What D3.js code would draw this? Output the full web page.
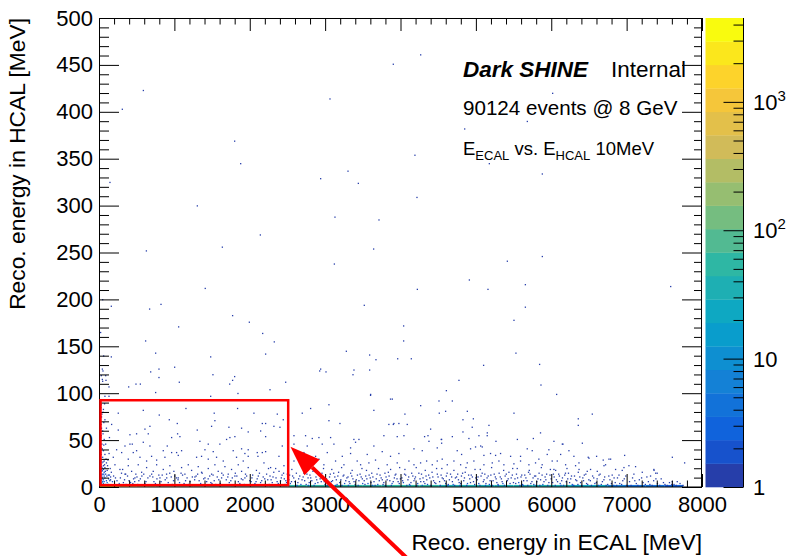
<!DOCTYPE html>
<html>
<head>
<meta charset="utf-8">
<script src="https://cdn.jsdelivr.net/npm/d3@7"></script>
<style>
  body { margin: 0; background: #fff; }
  svg { display: block; font-family: "Liberation Sans", Arial, Helvetica, sans-serif; }
</style>
</head>
<body>
<div id="chart"></div>
<script>
const W = 787, H = 556;

const ecalDomain = [0, 8000];
const hcalDomain = [0, 500];
const zMax = 4500;
const nLevels = 20;

const xTicks = [0, 1000, 2000, 3000, 4000, 5000, 6000, 7000, 8000];
const yTicks = [0, 50, 100, 150, 200, 250, 300, 350, 400, 450, 500];
const zTicks = [1, 10, 100, 1000];
const zTickLabels = [["1", ""], ["10", ""], ["10", "2"], ["10", "3"]];

// ROOT kBird palette stops
const birdPos = [0, 0.125, 0.25, 0.375, 0.5, 0.625, 0.75, 0.875, 1];
const birdR = [0.2082, 0.0592, 0.0780, 0.0232, 0.1802, 0.5301, 0.8186, 0.9956, 0.9764];
const birdG = [0.1664, 0.3599, 0.5041, 0.6419, 0.7178, 0.7492, 0.7328, 0.7862, 0.9832];
const birdB = [0.5293, 0.8684, 0.8385, 0.7914, 0.6425, 0.4662, 0.3499, 0.1968, 0.0539];

// events with high HCAL energy [ECAL MeV, HCAL MeV]
const highHcal = [
  [301,402],[580,422],[3056,413],[3896,450],[1791,368],[1871,344],[2932,328],[3295,336],[3432,323],[137,324],
  [1296,299],[3122,287],[3706,284],[2132,268],[1628,255],[620,251],[3635,253],[3114,237],
  [4259,460],[6010,419],[4843,381],[5674,389],[4183,353],[5170,344],[5873,333],[4210,308],[5409,240],[5873,245],
  [4905,220],[5648,215],[4215,210],[5152,210],[7576,213],[5648,191],[5497,177],[4033,171],[4033,155],[3954,136],
  [4135,136],[5523,142],[5094,129],[5837,130],[4767,113],[5855,108],[4600,102],[6063,98],[3883,93],[3594,97],[3859,93],
  [1401,211],[40,199],[155,192],[814,194],[663,189],[3511,193],[1764,182],[1986,175],[1048,170],[13,164],[2163,163],
  [2317,154],[610,155],[743,142],[155,138],[53,139],[1473,138],[2202,141],[3273,144],[3582,140],[3666,135],[44,123],
  [677,122],[787,125],[995,127],[1503,119],[1791,117],[1764,113],[1725,109],[2468,111],[2919,123],[2932,125],[3003,122],
  [3374,124],[3361,119],[3582,124],[22,118],[84,113],[40,112],[124,106],[385,106],[482,109],[540,109],[1057,111],
  [743,100],[1835,99],[2260,103],[3595,98],[70,96],[124,96],[1473,96],[36,125],[80,118],[36,114],[787,116]
];

// low ECAL column [ECAL, HCAL, entries]
const lowEcalColumn = [
  [20,87,1],[50,82,1],[30,77,1],[70,71,1],[20,66,1],[90,62,1],[40,59,1],[20,54,1],[60,50,1],[30,45,1],[80,45,1],
  [20,41,1],[50,38,2],[20,34,1],[70,34,1],[40,31,2],[20,27,2],[60,27,1],[30,25,2],[90,25,1],[20,23,2],[50,22,1],
  [30,20,3],[70,20,1],[20,18,2],[50,18,2],[100,17,1],[30,16,3],[60,15,2],[20,13,3],[40,13,2],[80,13,1],[30,11,3],
  [60,11,2],[20,9,4],[40,9,3],[70,9,2],[30,7,4],[50,7,3],[20,6,5],[40,5,4],[60,5,3],[90,6,2],[30,4,6],[50,3,5],
  [20,3,6],[10,8,3],[10,15,2],[10,30,1],[10,48,1],[10,70,1],[120,8,2],[110,28,1],[140,19,1],[130,52,1],[100,4,4],
  [15,12,3],[35,17,2],[55,13,2],[75,16,1],[95,11,2],[25,21,2],[45,26,1],[65,23,1],[85,29,1],[15,36,1],[35,40,1],
  [55,44,1],[15,52,1],[45,56,1],[25,62,1],[55,68,1],[25,74,1],[45,79,1],[15,84,1],[65,88,1],[115,12,1],[135,6,1],
  [105,22,1],[125,35,1],[145,10,1],[10,2,8],[30,1,8],[60,1,6],[80,2,4],[110,1,3]
];

// mid HCAL scatter [ECAL, HCAL]
const midHcal = [
  [247,78],[579,81],[791,76],[1145,83],[1520,78],[1830,83],[924,71],[1529,70],[667,64],[1030,67],[159,66],[247,60],
  [601,61],[1295,60],[1485,64],[1715,63],[1883,62],[402,55],[490,56],[645,56],[1034,56],[955,52],[1065,53],[1728,52],
  [1794,53],[1971,58],[336,43],[402,45],[433,45],[579,47],[667,43],[897,43],[1330,48],[1441,45],[1595,45],[1684,50],
  [225,39],[292,36],[446,36],[490,38],[844,38],[955,36],[1021,36],[1087,38],[1397,39],[1507,37],[1772,38],[1883,40],
  [1927,35],[1971,39],[181,31],[380,29],[535,31],[623,27],[689,32],[756,28],[866,31],[1043,33],[1286,31],[1352,32],
  [1441,29],[1551,31],[1640,27],[1816,31],[1905,27],[1971,32],
  [2047,78],[2357,77],[2436,71],[2158,67],[2202,67],[2312,64],[2392,63],[2136,59],[2202,53],[2423,43],[2091,36],
  [2158,36],[2202,37],[2379,32],[2100,32],[2688,78],[2799,83],[3042,87],[3638,81],[3042,70],[3188,67],[3837,66],
  [3904,67],[3970,67],[2578,54],[2732,54],[2821,51],[2909,52],[3064,52],[3373,50],[3440,50],[3771,54],[3948,53],
  [2578,45],[2754,43],[2953,45],[3108,45],[3329,41],[3395,47],[3638,43],[2710,36],[2865,32],[3020,36],[3219,32],
  [3329,35],[3550,34],[3749,37],[3859,32],[3970,35],
  [4502,91],[4679,91],[4259,86],[4050,77],[4506,78],[4590,80],[4878,80],[5497,78],[6350,72],[6536,77],[6350,65],
  [3896,66],[4081,66],[4820,71],[4958,72],[5165,65],[4943,63],[5143,57],[4820,58],[4037,54],[4391,61],[4356,54],
  [4679,53],[4537,50],[4537,46],[4369,48],[5754,51],[5542,50],[6027,48],[6138,45],[6404,46],[5258,48],[5055,43],
  [4170,40],[5142,54],[4311,53],[4532,50],[4899,51],[5032,54],[5849,57],[4280,38],[4479,41],[4744,38],[4802,34],
  [4921,40],[4987,42],[5076,42],[5098,33],[5186,35],[5253,33],[5319,35],[5452,32],[5584,32],[5673,40],[5739,38],
  [5960,39],[5938,34],[6147,45],[6226,38],[6116,34],[6292,32],[6482,31],[6593,32],[6965,33],[7598,31]
];

// dense low HCAL band [ECAL, HCAL, entries]
const lowHcal = [
  [203,23,1],[269,18,1],[336,13,1],[380,22,1],[424,16,1],[468,9,1],[512,23,1],[557,15,1],[623,20,1],[667,11,1],
  [711,16,1],[756,23,1],[800,9,1],[844,18,1],[888,13,1],[932,22,1],[985,16,1],[1043,9,1],[1087,20,1],[1131,13,1],
  [1176,23,1],[1220,17,1],[1264,10,1],[1308,21,1],[1352,15,1],[1397,9,1],[1441,19,1],[1485,13,1],[1529,23,1],
  [1573,16,1],[1618,9,1],[1662,21,1],[1706,13,1],[1750,18,1],[1794,11,1],[1839,23,1],[1883,16,1],[1927,9,1],[1971,20,1],
  [130,12,2],[170,5,2],[210,9,1],[260,3,2],[290,14,1],[330,7,1],[370,11,1],[410,4,2],[450,8,1],[480,13,1],[230,6,1],[350,2,2],[440,3,1],
  [520,6,1],[560,11,1],[600,3,2],[640,9,1],[690,13,1],[720,5,1],[760,8,1],[800,2,2],[830,12,1],[870,7,1],[910,4,1],[950,10,1],[980,6,1],
  [1020,9,1],[1060,4,2],[1100,12,1],[1140,6,1],[1180,2,1],[1230,10,1],[1260,7,1],[1300,13,1],[1340,3,2],[1380,8,1],[1420,5,1],[1460,11,1],[1490,3,1],
  [1520,6,1],[1560,10,1],[1600,3,2],[1640,12,1],[1680,7,1],[1720,4,1],[1760,9,1],[1800,14,1],[1840,5,1],[1880,8,1],[1920,2,2],[1950,11,1],[1990,6,1],
  [2180,25,1],[2268,20,1],[2335,19,1],[2445,22,1],[2578,27,1],[2644,29,1],[2754,25,1],[2909,29,1],[2975,23,1],[3130,27,1],
  [3241,23,1],[3417,27,1],[3462,23,1],[3572,25,1],[3660,28,1],[3815,23,1],[3948,25,1],
  [2010,5,1],[2030,12,1],[2060,3,2],[2090,8,1],[2120,14,1],[2150,6,1],[2170,10,1],[2200,2,2],[2230,7,1],[2260,11,1],
  [2290,4,1],[2310,15,1],[2340,9,1],[2370,3,2],[2400,6,1],[2420,12,1],[2450,8,1],[2480,4,1],[2490,13,1],[2080,17,1],
  [2240,19,1],[2380,16,1],[2140,1,2],[2330,1,2],[2460,2,1],
  [2510,7,1],[2530,3,2],[2560,11,1],[2590,5,1],[2610,14,1],[2640,8,1],[2670,2,2],[2700,10,1],[2720,6,1],[2750,13,1],
  [2780,4,1],[2800,9,1],[2830,16,1],[2860,3,2],[2880,7,1],[2910,12,1],[2940,5,1],[2960,9,1],[2990,2,1],[2550,18,1],
  [2690,20,1],[2850,17,1],[2970,19,1],[2620,1,2],[2770,1,2],
  [3010,8,1],[3040,4,2],[3060,13,1],[3090,6,1],[3120,10,1],[3150,2,2],[3170,15,1],[3200,7,1],[3230,11,1],[3250,3,2],
  [3280,9,1],[3310,5,1],[3330,14,1],[3360,8,1],[3390,2,1],[3420,12,1],[3440,6,1],[3470,10,1],[3490,3,2],[3080,18,1],
  [3210,20,1],[3350,17,1],[3480,19,1],[3130,1,2],[3300,1,2],
  [3510,6,1],[3530,11,1],[3560,3,2],[3590,9,1],[3610,14,1],[3640,5,1],[3670,8,1],[3690,2,2],[3720,12,1],[3750,7,1],
  [3770,4,1],[3800,10,1],[3830,15,1],[3850,6,1],[3880,3,2],[3910,9,1],[3930,13,1],[3960,5,1],[3990,8,1],[3540,17,1],
  [3700,19,1],[3860,18,1],[3980,20,1],[3620,1,2],[3790,1,2],
  [4103,27,1],[4170,23,1],[4258,25,1],[4338,27,1],[4413,23,1],[4479,27,1],[4545,29,1],[4612,23,1],[4700,27,1],
  [4789,23,1],[4877,25,1],[4965,27,1],[5098,23,1],[5209,25,1],[5297,27,1],[5363,23,1],[5496,24,1],[5584,27,1],
  [5695,23,1],[5783,25,1],[5871,23,1],[6004,27,1],[5827,29,1],
  [4010,9,1],[4030,4,2],[4060,12,1],[4090,7,1],[4110,2,2],[4140,14,1],[4170,6,1],[4190,10,1],[4220,3,2],[4250,8,1],
  [4270,13,1],[4300,5,1],[4330,11,1],[4350,2,2],[4380,9,1],[4410,15,1],[4430,6,1],[4460,3,1],[4490,10,1],[4050,18,1],
  [4200,20,1],[4320,17,1],[4470,19,1],[4120,1,2],[4280,1,2],
  [4510,5,1],[4530,12,1],[4560,8,1],[4590,3,2],[4610,14,1],[4640,7,1],[4670,10,1],[4690,2,2],[4720,9,1],[4750,13,1],
  [4770,4,1],[4800,11,1],[4830,6,1],[4850,15,1],[4880,3,2],[4910,8,1],[4930,12,1],[4960,5,1],[4990,9,1],[4540,19,1],
  [4700,17,1],[4860,20,1],[4980,18,1],[4620,1,2],[4780,1,2],
  [5010,7,1],[5030,3,2],[5060,11,1],[5090,5,1],[5110,13,1],[5140,9,1],[5170,2,2],[5190,12,1],[5220,6,1],[5250,10,1],
  [5270,4,1],[5300,14,1],[5330,8,1],[5350,3,2],[5380,11,1],[5410,6,1],[5430,15,1],[5460,9,1],[5490,4,1],[5050,18,1],
  [5200,20,1],[5360,17,1],[5480,19,1],[5120,1,2],[5290,1,2],
  [5510,8,1],[5530,13,1],[5560,4,2],[5590,10,1],[5610,2,2],[5640,12,1],[5670,6,1],[5690,15,1],[5720,3,1],[5750,9,1],
  [5770,11,1],[5800,5,1],[5830,14,1],[5850,7,1],[5880,2,2],[5910,10,1],[5930,13,1],[5960,4,1],[5990,8,1],[5540,19,1],
  [5700,17,1],[5860,20,1],[5980,18,1],[5620,1,2],[5790,1,2],
  [6071,27,1],[6182,23,1],[6314,22,1],[6359,25,1],[6469,16,1],[6513,18,1],[6602,16,1],[6681,28,1],[6779,29,1],
  [6712,23,1],[6757,29,1],[6492,30,1],[6691,22,1],[6845,18,1],[6933,17,1],[6956,20,1],[7022,22,1],[7110,21,1],
  [7088,13,1],[7199,15,1],[7309,11,1],[7353,18,1],[7355,17,1],[7377,14,1],[7397,14,1],[7761,25,1],[6027,18,1],
  [6010,4,1],[6030,10,1],[6060,7,1],[6090,13,1],[6110,3,2],[6140,9,1],[6170,12,1],[6190,5,1],[6220,14,1],[6250,8,1],
  [6270,2,2],[6300,11,1],[6330,6,1],[6350,15,1],[6380,4,1],[6410,9,1],[6430,12,1],[6460,3,1],[6490,7,1],[6050,17,1],
  [6200,19,1],[6360,18,1],[6120,1,2],[6280,1,2],
  [6510,6,1],[6540,11,1],[6570,3,1],[6600,8,1],[6640,13,1],[6670,5,1],[6700,10,1],[6740,2,1],[6770,7,1],[6800,12,1],
  [6840,4,1],[6870,9,1],[6900,3,1],[6940,6,1],[6980,11,1],[6620,1,2],[6820,1,2],
  [7030,5,1],[7070,9,1],[7120,3,1],[7160,7,1],[7210,4,1],[7260,10,1],[7300,2,1],[7350,6,1],[7400,3,1],[7450,8,1],
  [7500,2,1],[7560,4,1],[7596,5,1],[7620,2,1],[7663,5,1],[7700,3,1],[7740,1,1]
];

// more of the bottom band, y < 15 MeV [ECAL, HCAL]
const bottomBand = [
  [115,2],[145,7],[185,11],[245,1],[275,9],[315,4],[345,13],[390,6],[425,1],[465,5],[495,10],[155,15],[305,18],
  [505,2],[540,8],[585,13],[615,5],[655,1],[705,10],[740,3],[785,12],[815,5],[850,1],[890,9],[930,14],[965,2],[995,11],
  [1005,1],[1040,7],[1080,14],[1120,3],[1160,9],[1200,5],[1245,1],[1280,11],[1320,6],[1360,14],[1400,1],[1440,8],[1475,4],
  [1505,12],[1540,2],[1580,7],[1620,14],[1660,1],[1700,10],[1740,6],[1780,1],[1820,11],[1860,3],[1900,7],[1935,13],[1975,1],
  [2020,9],[2045,1],[2075,5],[2105,11],[2135,4],[2190,8],[2215,13],[2250,2],[2275,7],[2300,10],[2355,5],[2390,1],[2410,9],[2440,14],[2470,6],
  [2520,12],[2545,5],[2575,9],[2600,1],[2630,4],[2655,11],[2685,7],[2710,14],[2740,2],[2765,9],[2790,12],[2815,6],[2845,1],[2870,10],[2895,4],[2925,8],[2950,14],[2980,5],
  [3020,1],[3050,10],[3075,5],[3105,14],[3140,7],[3160,11],[3185,4],[3215,1],[3240,12],[3265,6],[3295,10],[3320,3],[3345,11],[3375,5],[3405,7],[3430,1],[3455,13],[3485,8],
  [3520,2],[3545,8],[3575,12],[3600,4],[3625,10],[3655,1],[3680,13],[3710,6],[3735,9],[3760,2],[3785,14],[3815,7],[3840,11],[3870,1],[3895,5],[3920,12],[3945,8],[3975,3],
  [4020,6],[4045,13],[4075,1],[4100,10],[4130,4],[4155,11],[4180,8],[4210,1],[4235,14],[4260,5],[4290,9],[4315,3],[4340,7],[4365,12],[4395,1],[4420,10],[4445,4],[4480,13],
  [4520,1],[4545,9],[4575,6],[4600,11],[4625,2],[4655,13],[4680,5],[4710,1],[4735,10],[4760,7],[4790,3],[4815,14],[4840,9],[4870,1],[4895,12],[4920,4],[4945,10],[4975,2],
  [5020,10],[5045,1],[5075,14],[5100,7],[5125,3],[5155,11],[5180,6],[5210,1],[5235,13],[5260,8],[5285,2],[5315,10],[5340,5],[5370,1],[5395,13],[5420,8],[5445,3],[5475,12],
  [5520,3],[5545,9],[5575,1],[5600,12],[5625,6],[5655,9],[5680,1],[5710,13],[5735,5],[5760,2],[5785,11],[5815,8],[5840,1],[5870,12],[5895,5],[5920,7],[5945,1],[5975,12],
  [6020,13],[6045,1],[6075,5],[6100,11],[6130,6],[6155,1],[6180,14],[6210,8],[6235,4],[6260,11],[6290,1],[6315,7],[6345,2],[6370,10],[6395,1],[6420,6],[6450,13],[6475,2],
  [6525,1],[6555,9],[6590,4],[6625,12],[6655,2],[6690,7],[6720,1],[6755,11],[6790,3],[6825,9],[6860,1],[6890,12],[6925,2],[6960,8],[6990,1],
  [7050,1],[7100,6],[7140,1],[7190,9],[7240,2],[7280,5],[7330,1],[7380,8],[7430,1],[7480,4],[7530,1],[7590,2],[7650,1]
];

// entries in the HCAL = 0 row, 250 MeV ECAL slices
const zeroRowEcal = [0,250,500,750,1000,1250,1500,1750,2000,2250,2500,2750,3000,3250,3500,3750,4000,4250,4500,4750,5000,5250,5500,5750,6000,6250,6500,6750,7000,7250,7500];
const zeroRowCounts = [2500,600,200,90,80,70,65,60,60,55,55,50,50,50,50,45,45,45,40,40,40,35,35,30,30,25,20,8,5,4,3];

const box = { ecal: [0, 2510], hcal: [2, 92.5] };
const arrowTip = [2540, 43];
const arrowTail = [4140, -80];

// ---------------------------------------------------------------
const svg = d3.select("#chart").append("svg")
  .attr("width", W).attr("height", H);

const x = d3.scaleLinear().domain(ecalDomain).range([99, 702]);
const y = d3.scaleLinear().domain(hcalDomain).range([487, 18]);
const z = d3.scaleLog().domain([1, zMax]).range([487, 18]);

const bird = d3.scaleLinear()
  .domain(birdPos)
  .range(birdPos.map((p, i) => d3.rgb(birdR[i] * 255, birdG[i] * 255, birdB[i] * 255)))
  .interpolate(d3.interpolateRgb);

const logMax = Math.log10(zMax);
const level = n => Math.min(nLevels - 1, Math.floor(Math.log10(n) / logMax * nLevels + 1e-9));
const levelColor = k => bird((k + 1) / nLevels);

svg.append("defs").append("clipPath").attr("id", "frame")
  .append("rect").attr("x", 99).attr("y", 18).attr("width", 603).attr("height", 469);

const plot = svg.append("g").attr("clip-path", "url(#frame)");

// HCAL = 0 row
plot.append("g").selectAll("rect")
  .data(zeroRowEcal)
  .join("rect")
  .attr("x", d => x(d))
  .attr("width", d => x(d + 250) - x(d))
  .attr("y", y(2.2))
  .attr("height", y(0) - y(2.2))
  .attr("fill", (d, i) => levelColor(level(zeroRowCounts[i])));

const cells = []
  .concat(highHcal.map(d => [d[0], d[1], 1]))
  .concat(midHcal.map(d => [d[0], d[1], 1]))
  .concat(bottomBand.map(d => [d[0], d[1], 1]))
  .concat(lowHcal)
  .concat(lowEcalColumn);

const dot = 1.3;
plot.append("g").selectAll("rect")
  .data(cells)
  .join("rect")
  .attr("x", d => x(d[0]))
  .attr("y", d => y(d[1]) - dot)
  .attr("width", dot)
  .attr("height", dot)
  .attr("fill", d => levelColor(level(d[2])));

// text block
const txt = svg.append("g").attr("fill", "#000");
const t1 = txt.append("text").attr("x", 463).attr("y", 77).attr("font-size", 22.5);
t1.append("tspan").attr("font-weight", "bold").attr("font-style", "italic").text("Dark SHINE");
txt.append("text").attr("x", 611).attr("y", 77).attr("font-size", 22.5).text("Internal");
txt.append("text").attr("x", 463).attr("y", 115).attr("font-size", 20.6).text("90124 events @ 8 GeV");
const t3 = txt.append("text").attr("x", 463).attr("y", 155).attr("font-size", 18.5);
t3.append("tspan").text("E");
t3.append("tspan").attr("font-size", 13).attr("dy", 5).text("ECAL");
t3.append("tspan").attr("dy", -5).text(" vs. E");
t3.append("tspan").attr("font-size", 13).attr("dy", 5).text("HCAL");
t3.append("tspan").attr("dy", -5).text(" 10MeV");

// axes, ROOT style ticks inside the frame
const minorX = d3.range(0, 8001, 200).filter(v => v % 1000 !== 0);
const minorY = d3.range(0, 501, 10).filter(v => v % 50 !== 0);

function styleAxis(g) {
  g.select(".domain").remove();
  g.selectAll(".tick line").attr("stroke", "#000").attr("stroke-width", 1);
  g.selectAll(".tick text").attr("fill", "#000");
  g.attr("font-family", null).attr("font-size", 22);
}

svg.append("g").attr("transform", "translate(0,487)")
  .call(d3.axisBottom(x).tickValues(xTicks).tickSize(-13).tickPadding(9).tickFormat(d3.format("d")))
  .call(styleAxis);
svg.append("g").attr("transform", "translate(0,487)")
  .call(d3.axisBottom(x).tickValues(minorX).tickSize(-6.5).tickFormat(""))
  .call(styleAxis);
svg.append("g").attr("transform", "translate(0,18)")
  .call(d3.axisTop(x).tickValues(xTicks).tickSize(-13).tickFormat(""))
  .call(styleAxis);
svg.append("g").attr("transform", "translate(0,18)")
  .call(d3.axisTop(x).tickValues(minorX).tickSize(-6.5).tickFormat(""))
  .call(styleAxis);

svg.append("g").attr("transform", "translate(99,0)")
  .call(d3.axisLeft(y).tickValues(yTicks).tickSize(-20).tickPadding(6).tickFormat(d3.format("d")))
  .call(styleAxis);
svg.append("g").attr("transform", "translate(99,0)")
  .call(d3.axisLeft(y).tickValues(minorY).tickSize(-10).tickFormat(""))
  .call(styleAxis);
svg.append("g").attr("transform", "translate(702,0)")
  .call(d3.axisRight(y).tickValues(yTicks).tickSize(-20).tickFormat(""))
  .call(styleAxis);
svg.append("g").attr("transform", "translate(702,0)")
  .call(d3.axisRight(y).tickValues(minorY).tickSize(-8).tickFormat(""))
  .call(styleAxis);

// frame
svg.append("rect")
  .attr("x", 99.5).attr("y", 18.5).attr("width", 602).attr("height", 468.5)
  .attr("fill", "none").attr("stroke", "#000").attr("stroke-width", 1);

// axis titles
svg.append("text")
  .attr("x", 702).attr("y", 550)
  .attr("text-anchor", "end").attr("font-size", 22.8)
  .text("Reco. energy in ECAL [MeV]");
svg.append("text")
  .attr("transform", "translate(25,18) rotate(-90)")
  .attr("text-anchor", "end").attr("font-size", 22.8)
  .text("Reco. energy in HCAL [MeV]");

// palette
const palX = 705.5, palW = 38;
const bounds = d3.range(nLevels + 1).map(k => Math.pow(10, k * logMax / nLevels));
svg.append("g").selectAll("rect")
  .data(d3.range(nLevels))
  .join("rect")
  .attr("x", palX)
  .attr("width", palW)
  .attr("y", k => z(bounds[k + 1]))
  .attr("height", k => z(bounds[k]) - z(bounds[k + 1]) + 0.3)
  .attr("fill", k => levelColor(k));

const zMinor = [];
[1, 10, 100, 1000].forEach(dec => d3.range(2, 10).forEach(m => { if (dec * m <= zMax) zMinor.push(dec * m); }));

svg.append("g").attr("transform", `translate(${palX + palW},0)`)
  .call(d3.axisRight(z).tickValues(zTicks).tickSize(-20).tickFormat(""))
  .call(styleAxis);
svg.append("g").attr("transform", `translate(${palX + palW},0)`)
  .call(d3.axisRight(z).tickValues(zMinor).tickSize(-10).tickFormat(""))
  .call(styleAxis);
svg.append("line")
  .attr("x1", palX + palW).attr("x2", palX + palW)
  .attr("y1", 18).attr("y2", 487)
  .attr("stroke", "#000");

const zl = svg.append("g").attr("font-size", 22);
zTicks.forEach((v, i) => {
  const t = zl.append("text").attr("x", 753).attr("y", z(v) + 8);
  t.append("tspan").text(zTickLabels[i][0]);
  if (zTickLabels[i][1]) t.append("tspan").attr("font-size", 15).attr("dy", -9).text(zTickLabels[i][1]);
});

// red annotation
svg.append("rect")
  .attr("x", x(box.ecal[0]) + 1.5)
  .attr("y", y(box.hcal[1]))
  .attr("width", x(box.ecal[1]) - x(box.ecal[0]) - 1.5)
  .attr("height", y(box.hcal[0]) - y(box.hcal[1]))
  .attr("fill", "none").attr("stroke", "#ff0000").attr("stroke-width", 2.5);

const tip = [x(arrowTip[0]), y(arrowTip[1])];
const tail = [x(arrowTail[0]), y(arrowTail[1])];
const ang = Math.atan2(tip[1] - tail[1], tip[0] - tail[0]);
const headLen = 30, headHalf = 11;
const base = [tip[0] - headLen * Math.cos(ang), tip[1] - headLen * Math.sin(ang)];
svg.append("line")
  .attr("x1", tail[0]).attr("y1", tail[1])
  .attr("x2", base[0]).attr("y2", base[1])
  .attr("stroke", "#ff0000").attr("stroke-width", 4);
svg.append("path")
  .attr("d", d3.line()([
    tip,
    [base[0] + headHalf * Math.sin(ang), base[1] - headHalf * Math.cos(ang)],
    [base[0] - headHalf * Math.sin(ang), base[1] + headHalf * Math.cos(ang)]
  ]) + "Z")
  .attr("fill", "#ff0000");
</script>
</body>
</html>
